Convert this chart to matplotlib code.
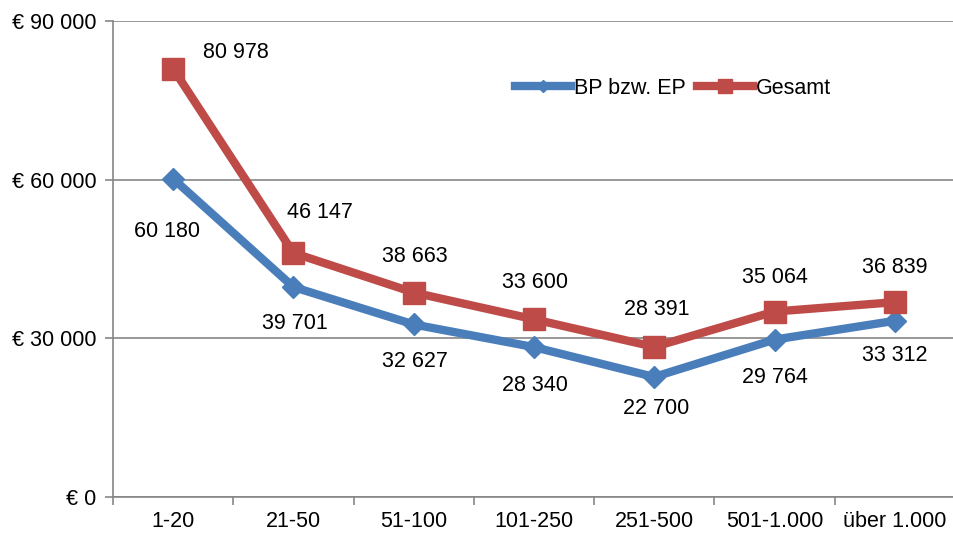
import matplotlib.pyplot as plt
from matplotlib.ticker import FuncFormatter

plt.rcParams['font.family'] = ['Liberation Sans', 'DejaVu Sans']

categories = ['1-20', '21-50', '51-100', '101-250', '251-500', '501-1.000', 'über 1.000']
bp_ep = [60180, 39701, 32627, 28340, 22700, 29764, 33312]
gesamt = [80978, 46147, 38663, 33600, 28391, 35064, 36839]

# label offsets in pixels (dx, dy)
bp_off = [(-6, -53), (1, -36), (1, -37), (1, -38), (2, -32), (0, -38), (0, -35)]
ges_off = [(63, 16), (27, 40), (1, 36), (1, 37), (2, 37), (0, 34), (0, 35)]

blue = '#4A7EBB'
red = '#BE4B48'
grey = '#868686'
fs = 15.5


def fmt(v):
    return f'{v:,}'.replace(',', ' ')


fig = plt.figure(figsize=(9.54, 5.33), dpi=100)
ax = fig.add_axes([113 / 954, 1 - 497 / 533, 842 / 954, 476 / 533])

x = list(range(len(categories)))
ax.plot(x, bp_ep, color=blue, lw=6, marker='D', ms=11, mfc=blue, mec=blue,
        label='BP bzw. EP', zorder=3, solid_joinstyle='round')
ax.plot(x, gesamt, color=red, lw=6, marker='s', ms=16, mfc=red, mec=red,
        label='Gesamt', zorder=3, solid_joinstyle='round')

for i in x:
    ax.annotate(fmt(bp_ep[i]), (i, bp_ep[i]), xytext=bp_off[i], textcoords='offset pixels',
                ha='center', va='center', fontsize=fs)
    ax.annotate(fmt(gesamt[i]), (i, gesamt[i]), xytext=ges_off[i], textcoords='offset pixels',
                ha='center', va='center', fontsize=fs)

ax.set_xlim(-0.5, len(categories) - 0.5)
ax.set_ylim(0, 90000)
ax.set_yticks([0, 30000, 60000, 90000])
ax.yaxis.set_major_formatter(FuncFormatter(lambda v, p: '€ ' + fmt(int(v))))
ax.grid(axis='y', color=grey, lw=1.2)
ax.set_axisbelow(True)

ax.set_xticks([i - 0.5 for i in range(len(categories) + 1)])
ax.set_xticklabels([])
ax.set_xticks(x, minor=True)
ax.set_xticklabels(categories, minor=True)
ax.tick_params(axis='x', which='minor', length=0, pad=10, labelsize=fs)
ax.tick_params(axis='x', which='major', length=6, color=grey, width=1.2)
ax.tick_params(axis='y', length=6, color=grey, width=1.2, labelsize=fs, pad=6)

for s in ['top', 'right']:
    ax.spines[s].set_visible(False)
for s in ['left', 'bottom']:
    ax.spines[s].set_color(grey)
    ax.spines[s].set_linewidth(1.2)

leg = ax.legend(loc='center', bbox_to_anchor=(0.665, 0.859), ncol=2, frameon=False,
                fontsize=fs, handlelength=2.6, columnspacing=0.5, handletextpad=0.15,
                markerscale=0.6)

fig.savefig('out.png', dpi=100)
